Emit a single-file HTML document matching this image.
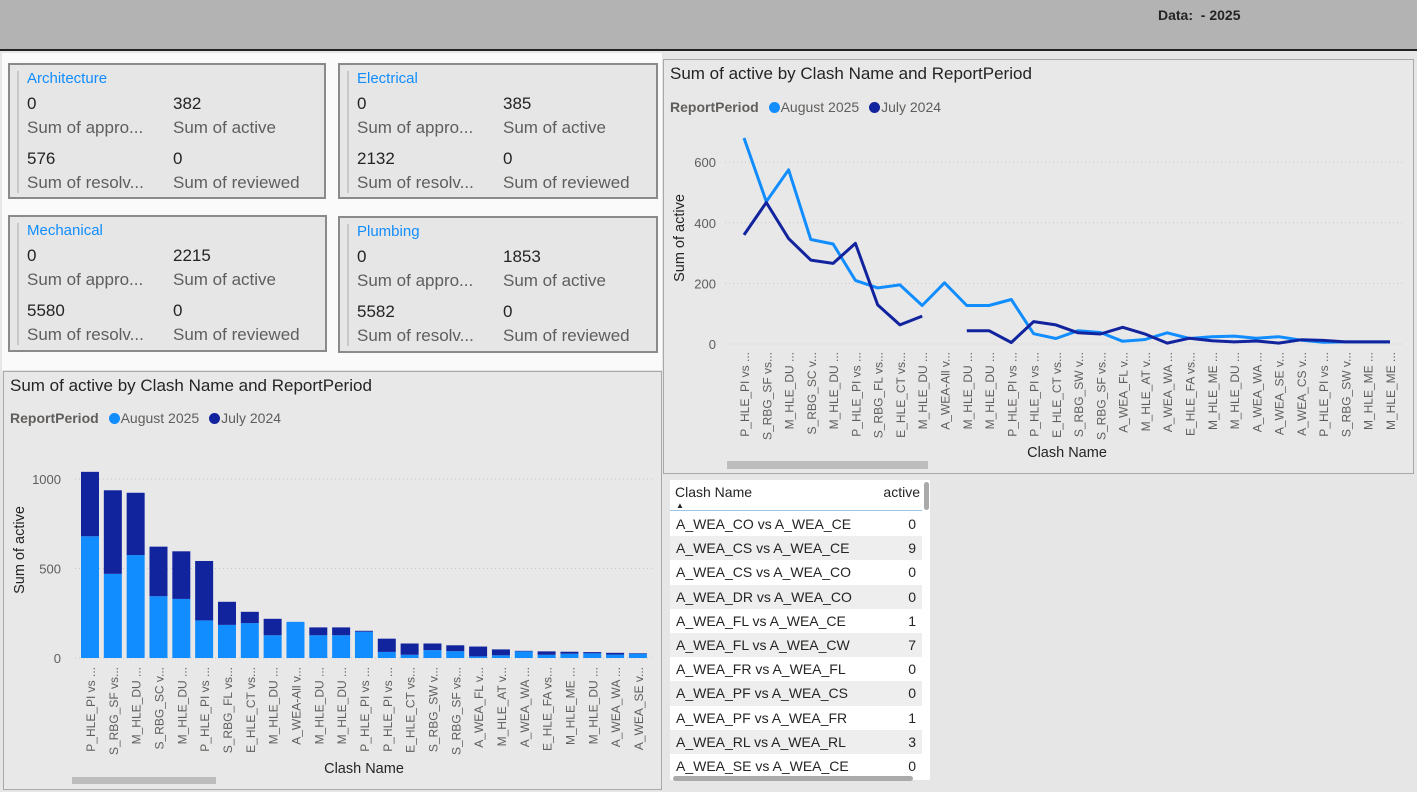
<!DOCTYPE html>
<html><head><meta charset="utf-8">
<style>
*{box-sizing:border-box;margin:0;padding:0}
body{width:1417px;height:792px;overflow:hidden;background:#e6e6e6;font-family:"Liberation Sans",sans-serif;position:relative}
.abs{position:absolute}
.card{position:absolute;background:#e6e6e6;border:2px solid #8a8a8a}
.card .bar{position:absolute;left:7px;top:6px;width:2px;height:122px;background:#c8c8c8}
.card .t{position:absolute;left:17px;top:5px;font-size:15px;color:#118DFF}
.card .v{position:absolute;font-size:17px;color:#252423}
.card .l{position:absolute;font-size:17px;color:#605e5c;white-space:nowrap}
.panel{position:absolute;background:#e8e8e8;border:1px solid #a8a8a8}
.ptitle{position:absolute;left:6px;top:4px;font-size:17px;color:#252423}
.legend{position:absolute;left:6px;font-size:14px;color:#605e5c;white-space:nowrap}
.legend b{color:#605e5c}
.dot{display:inline-block;width:11px;height:11px;border-radius:50%;vertical-align:-1px;margin-left:6px;margin-right:1px}
table{border-collapse:collapse;font-size:14px;color:#252423}
td{height:24.2px;padding:0 6px;white-space:nowrap}
</style></head><body>
<div class="abs" style="left:0;top:0;width:1417px;height:51px;background:#b3b3b3;border-bottom:2px solid #222"></div>
<div class="abs" style="left:1158px;top:7px;font-size:14px;font-weight:bold;color:#252423">Data:&nbsp; - 2025</div>
<div class="abs" style="left:2px;top:53px;width:660px;height:317px;background:#fafafa"></div>

<div class="card" style="left:8px;top:63px;width:318px;height:136px">
<div class="bar"></div><div class="t">Architecture</div>
<div class="v" style="left:17px;top:29px">0</div><div class="v" style="left:163px;top:29px">382</div>
<div class="l" style="left:17px;top:53px">Sum of appro...</div><div class="l" style="left:163px;top:53px">Sum of active</div>
<div class="v" style="left:17px;top:84px">576</div><div class="v" style="left:163px;top:84px">0</div>
<div class="l" style="left:17px;top:108px">Sum of resolv...</div><div class="l" style="left:163px;top:108px">Sum of reviewed</div></div>

<div class="card" style="left:338px;top:63px;width:320px;height:136px">
<div class="bar"></div><div class="t">Electrical</div>
<div class="v" style="left:17px;top:29px">0</div><div class="v" style="left:163px;top:29px">385</div>
<div class="l" style="left:17px;top:53px">Sum of appro...</div><div class="l" style="left:163px;top:53px">Sum of active</div>
<div class="v" style="left:17px;top:84px">2132</div><div class="v" style="left:163px;top:84px">0</div>
<div class="l" style="left:17px;top:108px">Sum of resolv...</div><div class="l" style="left:163px;top:108px">Sum of reviewed</div></div>

<div class="card" style="left:8px;top:215px;width:319px;height:137px">
<div class="bar"></div><div class="t">Mechanical</div>
<div class="v" style="left:17px;top:29px">0</div><div class="v" style="left:163px;top:29px">2215</div>
<div class="l" style="left:17px;top:53px">Sum of appro...</div><div class="l" style="left:163px;top:53px">Sum of active</div>
<div class="v" style="left:17px;top:84px">5580</div><div class="v" style="left:163px;top:84px">0</div>
<div class="l" style="left:17px;top:108px">Sum of resolv...</div><div class="l" style="left:163px;top:108px">Sum of reviewed</div></div>

<div class="card" style="left:338px;top:216px;width:320px;height:137px">
<div class="bar"></div><div class="t">Plumbing</div>
<div class="v" style="left:17px;top:29px">0</div><div class="v" style="left:163px;top:29px">1853</div>
<div class="l" style="left:17px;top:53px">Sum of appro...</div><div class="l" style="left:163px;top:53px">Sum of active</div>
<div class="v" style="left:17px;top:84px">5582</div><div class="v" style="left:163px;top:84px">0</div>
<div class="l" style="left:17px;top:108px">Sum of resolv...</div><div class="l" style="left:163px;top:108px">Sum of reviewed</div></div>

<div class="panel" style="left:3px;top:371px;width:659px;height:419px">
<div class="ptitle">Sum of active by Clash Name and ReportPeriod</div>
<div class="legend" style="top:38px"><b>ReportPeriod</b> <span class="dot" style="background:#118DFF"></span>August 2025 <span class="dot" style="background:#12239E"></span>July 2024</div>
</div>
<div class="panel" style="left:663px;top:59px;width:751px;height:415px">
<div class="ptitle">Sum of active by Clash Name and ReportPeriod</div>
<div class="legend" style="top:39px"><b>ReportPeriod</b> <span class="dot" style="background:#118DFF"></span>August 2025 <span class="dot" style="background:#12239E"></span>July 2024</div>
</div>

<svg class="abs" style="left:0;top:0" width="1417" height="792" id="charts"></svg>

<div class="abs" style="left:670px;top:480px;width:260px;height:300px;background:#fff">
<div class="abs" style="left:5px;top:4px;font-size:14px;color:#252423">Clash Name</div>
<div class="abs" style="left:6px;top:21px;font-size:8px;color:#252423">▲</div>
<div class="abs" style="right:10px;top:4px;font-size:14px;color:#252423">active</div>
<div class="abs" style="left:0;top:30px;width:252px;height:1px;background:#9ec5e8"></div>
<table class="abs" style="left:0;top:32px;width:252px">
<tr style="background:#fff"><td>A_WEA_CO vs A_WEA_CE</td><td style="text-align:right">0</td></tr>
<tr style="background:#eee"><td>A_WEA_CS vs A_WEA_CE</td><td style="text-align:right">9</td></tr>
<tr style="background:#fff"><td>A_WEA_CS vs A_WEA_CO</td><td style="text-align:right">0</td></tr>
<tr style="background:#eee"><td>A_WEA_DR vs A_WEA_CO</td><td style="text-align:right">0</td></tr>
<tr style="background:#fff"><td>A_WEA_FL vs A_WEA_CE</td><td style="text-align:right">1</td></tr>
<tr style="background:#eee"><td>A_WEA_FL vs A_WEA_CW</td><td style="text-align:right">7</td></tr>
<tr style="background:#fff"><td>A_WEA_FR vs A_WEA_FL</td><td style="text-align:right">0</td></tr>
<tr style="background:#eee"><td>A_WEA_PF vs A_WEA_CS</td><td style="text-align:right">0</td></tr>
<tr style="background:#fff"><td>A_WEA_PF vs A_WEA_FR</td><td style="text-align:right">1</td></tr>
<tr style="background:#eee"><td>A_WEA_RL vs A_WEA_RL</td><td style="text-align:right">3</td></tr>
<tr style="background:#fff"><td>A_WEA_SE vs A_WEA_CE</td><td style="text-align:right">0</td></tr>
</table>
<div class="abs" style="left:254px;top:2px;width:5px;height:28px;background:#aaa;border-radius:3px"></div>
<div class="abs" style="left:3px;top:296px;width:240px;height:5px;background:#aaa;border-radius:3px"></div>
</div>

<script>
const categories=["P_HLE_PI vs ...","S_RBG_SF vs...","M_HLE_DU ...","S_RBG_SC v...","M_HLE_DU ...","P_HLE_PI vs ...","S_RBG_FL vs...","E_HLE_CT vs...","M_HLE_DU ...","A_WEA-All v...","M_HLE_DU ...","M_HLE_DU ...","P_HLE_PI vs ...","P_HLE_PI vs ...","E_HLE_CT vs...","S_RBG_SW v...","S_RBG_SF vs...","A_WEA_FL v...","M_HLE_AT v...","A_WEA_WA ...","E_HLE_FA vs...","M_HLE_ME ...","M_HLE_DU ...","A_WEA_WA ...","A_WEA_SE v...","A_WEA_CS v...","P_HLE_PI vs ...","S_RBG_SW v...","M_HLE_ME ...","M_HLE_ME ..."];
const aug2025=[680,470,575,345,330,210,185,195,127,202,127,127,147,34,18,44,38,9,15,37,18,24,26,19,24,13,6,7,7,7];
const jul2024=[360,467,348,277,266,332,129,63,92,null,44,44,5,74,63,37,33,55,33,3,19,11,7,10,3,14,12,7,7,7];
const barTicks=[0,500,1000];
const lineTicks=[0,200,400,600];
const barCount=25;

const NS="http://www.w3.org/2000/svg";
const svg=document.getElementById('charts');
function mk(tag,attrs,parent){const e=document.createElementNS(NS,tag);for(const k in attrs)e.setAttribute(k,attrs[k]);(parent||svg).appendChild(e);return e;}
const LIGHT="#118DFF",DARK="#12239E";

// ---- bar chart ----
const bx0=90,bdx=22.83,by0=658,bk=0.179;
const bX=i=>bx0+i*bdx, bY=v=>by0-v*bk;
barTicks.forEach(t=>{
  const g=mk('line',{x1:75,x2:655,y1:bY(t),y2:bY(t),stroke:'#c8c8c8','stroke-dasharray':'1,3'});
  
  
  const tx=mk('text',{x:61,y:bY(t)+5,'text-anchor':'end','font-size':13,fill:'#605e5c'});tx.textContent=t;
  
  
});
for(let i=0;i<barCount;i++){
  const a=aug2025[i]||0,j=jul2024[i]||0,w=18;
  const r1=mk('rect',{x:bX(i)-w/2,y:bY(a),width:w,height:a*bk,fill:LIGHT});
  
  
  const r2=mk('rect',{x:bX(i)-w/2,y:bY(a+j),width:w,height:j*bk,fill:DARK});
  
  
  const t=mk('text',{transform:`translate(${bX(i)+5},667) rotate(-90)`,'text-anchor':'end','font-size':12,fill:'#605e5c'});t.textContent=categories[i];
  
  
}
let t1=mk('text',{transform:'translate(24,550) rotate(-90)','text-anchor':'middle','font-size':14.5,fill:'#252423'});t1.textContent='Sum of active';


let t2=mk('text',{x:364,y:773,'text-anchor':'middle','font-size':14.5,fill:'#252423'});t2.textContent='Clash Name';


let s1=mk('rect',{x:72,y:777,width:144,height:7,fill:'#bdbdbd'});



// ---- line chart ----
const lx0=744,ldx=(1390-744)/29,ly0=344,lk=0.303;
const lX=i=>lx0+i*ldx, lY=v=>ly0-v*lk;
lineTicks.forEach(t=>{
  const g=mk('line',{x1:725,x2:1405,y1:lY(t),y2:lY(t),stroke:'#c8c8c8','stroke-dasharray':'1,3'});
  
  
  const tx=mk('text',{x:716,y:lY(t)+5,'text-anchor':'end','font-size':13,fill:'#605e5c'});tx.textContent=t;
  
  
});
categories.forEach((c,i)=>{
  const t=mk('text',{transform:`translate(${lX(i)+5},352) rotate(-90)`,'text-anchor':'end','font-size':12,fill:'#605e5c'});t.textContent=c;
  
  
});
function path(arr){let d='',pen=false;arr.forEach((v,i)=>{if(v==null){pen=false;return;}d+=(pen?'L':'M')+lX(i).toFixed(1)+','+lY(v).toFixed(1);pen=true;});return d;}
let p1=mk('path',{d:path(aug2025),fill:'none',stroke:LIGHT,'stroke-width':3,'stroke-linejoin':'round'});


let p2=mk('path',{d:path(jul2024),fill:'none',stroke:DARK,'stroke-width':3,'stroke-linejoin':'round'});


let t3=mk('text',{transform:'translate(684,238) rotate(-90)','text-anchor':'middle','font-size':14.5,fill:'#252423'});t3.textContent='Sum of active';


let t4=mk('text',{x:1067,y:457,'text-anchor':'middle','font-size':14.5,fill:'#252423'});t4.textContent='Clash Name';


let s2=mk('rect',{x:727,y:461,width:201,height:8,fill:'#bdbdbd'});


</script>
</body></html>
